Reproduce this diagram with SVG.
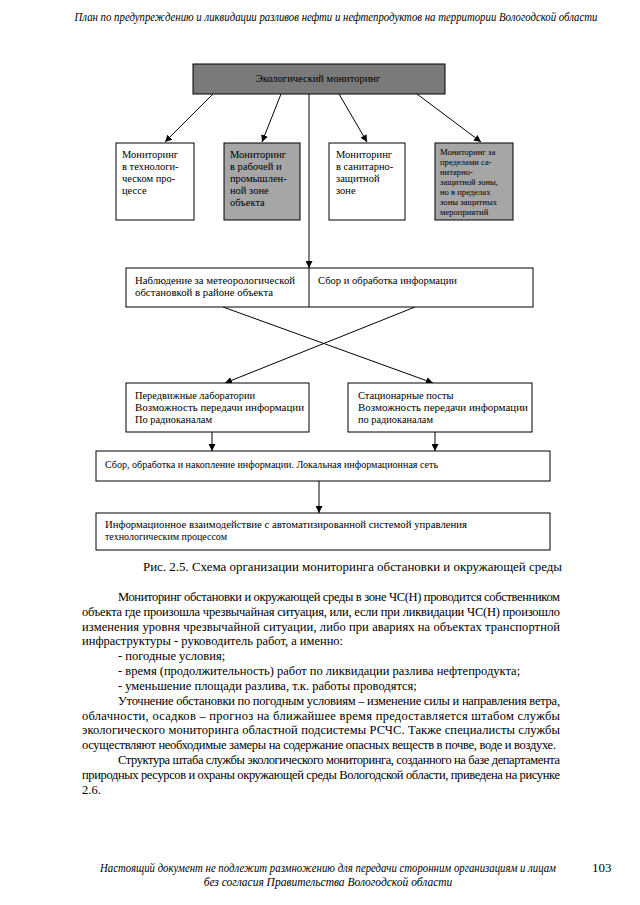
<svg xmlns="http://www.w3.org/2000/svg" width="640" height="905" viewBox="0 0 640 905" font-family="Liberation Serif, Times New Roman, serif">
<style>
.hd{font-style:italic;font-size:11.5px;fill:#000}
.bx{font-size:10.5px;fill:#000}
.sm{font-size:8.6px;fill:#000}
.body{font-size:12.5px;fill:#000}
.cap{font-size:13px;fill:#000}
.box{fill:#fff;stroke:#000;stroke-width:1}
.dark{fill:#7a7a7a;stroke:#000;stroke-width:1}
.gray{fill:#a6a6a6;stroke:#000;stroke-width:1}
.ln{stroke:#000;stroke-width:1;fill:none;marker-end:url(#ah)}
</style>
<defs>
<marker id="ah" viewBox="0 0 10 10" refX="10" refY="5" markerWidth="7" markerHeight="7" orient="auto" markerUnits="userSpaceOnUse">
<path d="M0,0 L10,5 L0,10 z" fill="#000"/>
</marker>
</defs>
<rect width="640" height="905" fill="#fff"/>
<text class="hd" font-family="Liberation Serif" x="336" y="21" text-anchor="middle" textLength="523" lengthAdjust="spacingAndGlyphs">План по предупреждению и ликвидации разливов нефти и нефтепродуктов на территории Вологодской области</text>

<g id="connectors">
<line class="ln" x1="213" y1="94" x2="165" y2="142"/>
<line class="ln" x1="281" y1="94" x2="262" y2="142"/>
<line class="ln" x1="339" y1="94" x2="367" y2="142"/>
<line class="ln" x1="417" y1="94" x2="481" y2="142"/>
<line class="ln" x1="309" y1="94" x2="309" y2="268"/>
<line class="ln" x1="223" y1="307" x2="433" y2="383"/>
<line class="ln" x1="415" y1="307" x2="225" y2="383"/>
<line class="ln" x1="212" y1="432" x2="212" y2="451"/>
<line class="ln" x1="435" y1="432" x2="435" y2="451"/>
<line class="ln" x1="319" y1="481" x2="319" y2="513"/>
</g>

<g id="n-eco" font-family="Liberation Serif">
<rect class="dark" x="193" y="64" width="252" height="30"/>
<text class="bx" x="318" y="82" text-anchor="middle">Экологический мониторинг</text>
</g>

<g id="n-tech" font-family="Liberation Serif">
<rect class="box" x="116" y="143" width="78" height="77"/>
<text class="bx" x="122" y="158">Мониторинг</text>
<text class="bx" x="122" y="170">в технологи-</text>
<text class="bx" x="122" y="182">ческом про-</text>
<text class="bx" x="122" y="194">цессе</text>
</g>

<g id="n-work" font-family="Liberation Serif">
<rect class="gray" x="224" y="143" width="76" height="77"/>
<text class="bx" x="230" y="158">Мониторинг</text>
<text class="bx" x="230" y="170">в рабочей и</text>
<text class="bx" x="230" y="182">промышлен-</text>
<text class="bx" x="230" y="194">ной зоне</text>
<text class="bx" x="230" y="206">объекта</text>
</g>

<g id="n-sanit" font-family="Liberation Serif">
<rect class="box" x="329" y="143" width="76" height="77"/>
<text class="bx" x="336" y="158">Мониторинг</text>
<text class="bx" x="336" y="170">в санитарно-</text>
<text class="bx" x="336" y="182">защитной</text>
<text class="bx" x="336" y="194">зоне</text>
</g>

<g id="n-outside" font-family="Liberation Serif">
<rect class="gray" x="435" y="143" width="78" height="77"/>
<text class="sm" x="440" y="155">Мониторинг за</text>
<text class="sm" x="440" y="165">пределами са-</text>
<text class="sm" x="440" y="175">нитарно-</text>
<text class="sm" x="440" y="185">защитной зоны,</text>
<text class="sm" x="440" y="195">но в пределах</text>
<text class="sm" x="440" y="205">зоны защитных</text>
<text class="sm" x="440" y="215">мероприятий</text>
</g>

<g id="n-info" font-family="Liberation Serif">
<rect class="box" x="126" y="268" width="407" height="39"/>
<line x1="309" y1="268" x2="309" y2="307" stroke="#000" stroke-width="1"/>
<text class="bx" x="135" y="284" textLength="160" lengthAdjust="spacingAndGlyphs">Наблюдение за метеорологической</text>
<text class="bx" x="135" y="296" textLength="138" lengthAdjust="spacingAndGlyphs">обстановкой в районе объекта</text>
<text class="bx" x="318" y="284" textLength="139" lengthAdjust="spacingAndGlyphs">Сбор и обработка информации</text>
</g>

<g id="n-mobile" font-family="Liberation Serif">
<rect class="box" x="126" y="383" width="183" height="49"/>
<text class="bx" x="135" y="399" textLength="120" lengthAdjust="spacingAndGlyphs">Передвижные лаборатории</text>
<text class="bx" x="135" y="411" textLength="169" lengthAdjust="spacingAndGlyphs">Возможность передачи информации</text>
<text class="bx" x="135" y="423" textLength="77" lengthAdjust="spacingAndGlyphs">По радиоканалам</text>
</g>

<g id="n-static" font-family="Liberation Serif">
<rect class="box" x="348" y="383" width="184" height="49"/>
<text class="bx" x="358" y="399">Стационарные посты</text>
<text class="bx" x="358" y="411" textLength="170" lengthAdjust="spacingAndGlyphs">Возможность передачи информации</text>
<text class="bx" x="358" y="423" textLength="75" lengthAdjust="spacingAndGlyphs">по радиоканалам</text>
</g>

<g id="n-collect" font-family="Liberation Serif">
<rect class="box" x="96" y="451" width="454" height="30"/>
<text class="bx" x="105" y="468" textLength="333" lengthAdjust="spacingAndGlyphs">Сбор, обработка и накопление информации. Локальная информационная сеть</text>
</g>

<g id="n-asu" font-family="Liberation Serif">
<rect class="box" x="96" y="513" width="454" height="37"/>
<text class="bx" x="105" y="528" textLength="362" lengthAdjust="spacingAndGlyphs">Информационное взаимодействие с автоматизированной системой управления</text>
<text class="bx" x="105" y="540" textLength="122" lengthAdjust="spacingAndGlyphs">технологическим процессом</text>
</g>

<text class="cap" font-family="Liberation Serif" x="143" y="571" textLength="419" lengthAdjust="spacingAndGlyphs">Рис. 2.5. Схема организации мониторинга обстановки и окружающей среды</text>

<g class="body" font-family="Liberation Serif">
<text x="118" y="601" textLength="442" lengthAdjust="spacing">Мониторинг обстановки и окружающей среды в зоне ЧС(Н) проводится собственником</text>
<text x="82" y="616" textLength="478" lengthAdjust="spacing">объекта где произошла чрезвычайная ситуация, или, если при ликвидации ЧС(Н) произошло</text>
<text x="82" y="631" textLength="478" lengthAdjust="spacing">изменения уровня чрезвычайной ситуации, либо при авариях на объектах транспортной</text>
<text x="82" y="645">инфраструктуры - руководитель работ, а именно:</text>
<text x="118" y="660">- погодные условия;</text>
<text x="118" y="675">- время (продолжительность) работ по ликвидации разлива нефтепродукта;</text>
<text x="118" y="690">- уменьшение площади разлива, т.к. работы проводятся;</text>
<text x="118" y="705" textLength="442" lengthAdjust="spacing">Уточнение обстановки по погодным условиям – изменение силы и направления ветра,</text>
<text x="82" y="720" textLength="478" lengthAdjust="spacing">облачности, осадков – прогноз на ближайшее время предоставляется штабом службы</text>
<text x="82" y="734" textLength="478" lengthAdjust="spacing">экологического мониторинга областной подсистемы РСЧС. Также специалисты службы</text>
<text x="82" y="749" textLength="474" lengthAdjust="spacing">осуществляют необходимые замеры на содержание опасных веществ в почве, воде и воздухе.</text>
<text x="118" y="764" textLength="442" lengthAdjust="spacing">Структура штаба службы экологического мониторинга, созданного на базе департамента</text>
<text x="82" y="779" textLength="478" lengthAdjust="spacing">природных ресурсов и охраны окружающей среды Вологодской области, приведена на рисунке</text>
<text x="82" y="794">2.6.</text>
</g>

<text class="hd" font-family="Liberation Serif" x="328" y="872" text-anchor="middle" textLength="456" lengthAdjust="spacingAndGlyphs">Настоящий документ не подлежит размножению для передачи сторонним организациям и лицам</text>
<text class="hd" font-family="Liberation Serif" x="328" y="886" text-anchor="middle">без согласия Правительства Вологодской области</text>
<text class="cap" font-family="Liberation Serif" x="592" y="872">103</text>
</svg>
